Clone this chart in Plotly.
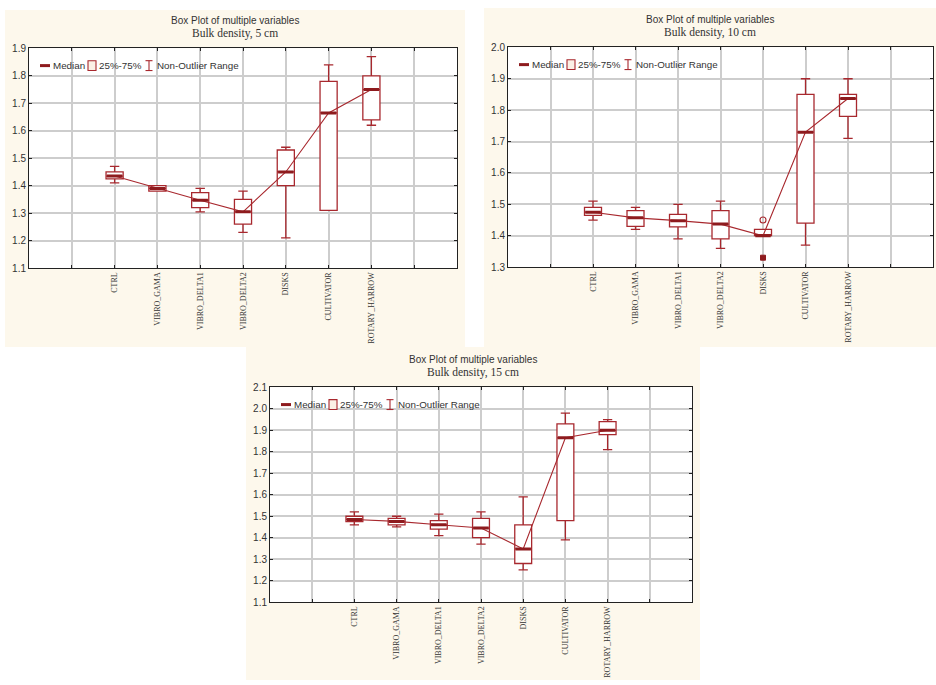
import plotly.graph_objects as go

W, H = 936, 685

categories = ["CTRL", "VIBRO_GAMA", "VIBRO_DELTA1", "VIBRO_DELTA2", "DISKS", "CULTIVATOR", "ROTARY_HARROW"]
positions = [2, 3, 4, 5, 6, 7, 8]
tick_positions = [1, 2, 3, 4, 5, 6, 7, 8, 9]
tick_labels = [""] + categories + [""]

# Bulk density, 5 cm
lower_5 = [1.41, 1.38, 1.305, 1.23, 1.21, 1.31, 1.62]
q1_5 = [1.425, 1.38, 1.32, 1.26, 1.40, 1.31, 1.64]
median_5 = [1.435, 1.39, 1.347, 1.305, 1.45, 1.665, 1.75]
q3_5 = [1.45, 1.40, 1.375, 1.35, 1.53, 1.78, 1.80]
upper_5 = [1.47, 1.40, 1.39, 1.38, 1.54, 1.84, 1.87]

# Bulk density, 10 cm
lower_10 = [1.45, 1.42, 1.39, 1.36, 1.40, 1.37, 1.71]
q1_10 = [1.465, 1.43, 1.428, 1.39, 1.40, 1.44, 1.78]
median_10 = [1.475, 1.457, 1.448, 1.437, 1.40, 1.73, 1.837]
q3_10 = [1.49, 1.48, 1.468, 1.48, 1.42, 1.85, 1.85]
upper_10 = [1.51, 1.49, 1.50, 1.51, 1.42, 1.90, 1.90]
outlier_x_10 = ["DISKS"]
outlier_y_10 = [1.45]
extreme_x_10 = ["DISKS"]
extreme_y_10 = [1.33]

# Bulk density, 15 cm
lower_15 = [1.46, 1.45, 1.41, 1.37, 1.25, 1.39, 1.81]
q1_15 = [1.475, 1.46, 1.44, 1.40, 1.28, 1.48, 1.88]
median_15 = [1.485, 1.476, 1.46, 1.445, 1.348, 1.865, 1.90]
q3_15 = [1.50, 1.49, 1.48, 1.49, 1.46, 1.93, 1.94]
upper_15 = [1.52, 1.50, 1.51, 1.52, 1.59, 1.98, 1.95]

RED = "#A8282E"
DARK_RED = "#8E1B1E"
CREAM = "#FDF8EC"
GRID = "#CDCDCD"
TXT = "#333333"
SANS = "Liberation Sans, Arial, sans-serif"
SERIF = "Liberation Serif, Times New Roman, serif"

pos_of = dict(zip(categories, positions))

panels = [
    dict(sfx="", title="Bulk density, 5 cm", plot=(29, 457, 44, 267), bg=(5, 465, 5, 347),
         yr=(1.1, 1.9), lo=lower_5, q1=q1_5, md=median_5, q3=q3_5, hi=upper_5, out=None, ext=None),
    dict(sfx="2", title="Bulk density, 10 cm", plot=(508, 933, 43, 266), bg=(484, 936, 3, 347),
         yr=(1.3, 2.0), lo=lower_10, q1=q1_10, md=median_10, q3=q3_10, hi=upper_10,
         out=(outlier_x_10, outlier_y_10), ext=(extreme_x_10, extreme_y_10)),
    dict(sfx="3", title="Bulk density, 15 cm", plot=(270, 692, 388, 606), bg=(246, 700, 347, 685),
         yr=(1.1, 2.1), lo=lower_15, q1=q1_15, md=median_15, q3=q3_15, hi=upper_15, out=None, ext=None),
]

def px(x):
    return x / W

def py(y):
    return 1 - y / H

fig = go.Figure()
shapes = []
annotations = []

# cream panel backgrounds
for p in panels:
    x0, x1, y0, y1 = p["bg"]
    shapes.append(dict(type="rect", xref="paper", yref="paper", x0=px(x0), x1=px(x1),
                       y0=py(y1), y1=py(y0), fillcolor=CREAM, line=dict(width=0), layer="below"))

for p in panels:
    s = p["sfx"]
    xa, ya = "x" + s, "y" + s
    l, r, t, b = p["plot"]

    # white plot area
    shapes.append(dict(type="rect", xref=xa + " domain", yref=ya + " domain", x0=0, x1=1, y0=0, y1=1,
                       fillcolor="white", line=dict(width=0), layer="below"))

    fig.add_trace(go.Box(
        x=positions, q1=p["q1"], median=p["md"], q3=p["q3"],
        lowerfence=p["lo"], upperfence=p["hi"],
        width=0.4, whiskerwidth=0.55, boxpoints=False,
        line=dict(color=RED, width=1.3), fillcolor="white",
        xaxis=xa, yaxis=ya, showlegend=False, hoverinfo="skip"))

    fig.add_trace(go.Scatter(
        x=positions, y=p["md"], mode="lines+markers",
        line=dict(color=RED, width=1.1),
        marker=dict(symbol="line-ew", size=11, line=dict(color=DARK_RED, width=3)),
        xaxis=xa, yaxis=ya, showlegend=False, hoverinfo="skip"))

    if p["out"]:
        fig.add_trace(go.Scatter(
            x=[pos_of[c] for c in p["out"][0]], y=p["out"][1], mode="markers",
            marker=dict(symbol="circle-open", size=6, color=RED, line=dict(width=1.1)),
            xaxis=xa, yaxis=ya, showlegend=False, hoverinfo="skip"))
    if p["ext"]:
        fig.add_trace(go.Scatter(
            x=[pos_of[c] for c in p["ext"][0]], y=p["ext"][1], mode="markers",
            marker=dict(symbol="square", size=5, color=DARK_RED, line=dict(width=1, color=DARK_RED)),
            xaxis=xa, yaxis=ya, showlegend=False, hoverinfo="skip"))

    axis_key = "xaxis" + s
    yaxis_key = "yaxis" + s
    fig.layout[axis_key] = dict(
        domain=[px(l), px(r)], anchor=ya, range=[0, 10],
        tickvals=tick_positions, ticktext=tick_labels, tickangle=-90,
        tickfont=dict(family=SERIF, size=8, color=TXT),
        showgrid=True, gridcolor=GRID, gridwidth=1.5,
        showline=True, linecolor="#222222", linewidth=1, mirror="ticks",
        ticks="inside", ticklen=3, tickcolor="#222222", zeroline=False, fixedrange=True)
    fig.layout[yaxis_key] = dict(
        domain=[py(b), py(t)], anchor=xa, range=list(p["yr"]), dtick=0.1, tick0=p["yr"][0],
        tickformat=".1f", tickfont=dict(family=SANS, size=10, color=TXT),
        showgrid=True, gridcolor=GRID, gridwidth=1.5,
        showline=True, linecolor="#222222", linewidth=1, mirror="ticks",
        ticks="inside", ticklen=3, tickcolor="#222222", zeroline=False, fixedrange=True)

    # titles
    bx0, bx1, by0, by1 = p["bg"]
    cx = (bx0 + bx1) / 2
    annotations.append(dict(x=px(cx), y=py(t - 28), xref="paper", yref="paper", text="Box Plot of multiple variables",
                            showarrow=False, xanchor="center", yanchor="middle",
                            font=dict(family=SANS, size=10, color=TXT)))
    annotations.append(dict(x=px(cx), y=py(t - 15), xref="paper", yref="paper", text=p["title"],
                            showarrow=False, xanchor="center", yanchor="middle",
                            font=dict(family=SERIF, size=11.5, color=TXT)))

    # legend
    ly = t + 17.5
    shapes.append(dict(type="line", xref="paper", yref="paper", x0=px(l + 11), x1=px(l + 21),
                       y0=py(ly), y1=py(ly), line=dict(color=DARK_RED, width=3)))
    shapes.append(dict(type="rect", xref="paper", yref="paper", x0=px(l + 59), x1=px(l + 67),
                       y0=py(ly + 5), y1=py(ly - 5), line=dict(color=RED, width=1.1), fillcolor="#FBF1E6"))
    shapes.append(dict(type="line", xref="paper", yref="paper", x0=px(l + 120), x1=px(l + 120),
                       y0=py(ly + 5), y1=py(ly - 5), line=dict(color=RED, width=1.1)))
    shapes.append(dict(type="line", xref="paper", yref="paper", x0=px(l + 116.5), x1=px(l + 123.5),
                       y0=py(ly + 5), y1=py(ly + 5), line=dict(color=RED, width=1.1)))
    shapes.append(dict(type="line", xref="paper", yref="paper", x0=px(l + 116.5), x1=px(l + 123.5),
                       y0=py(ly - 5), y1=py(ly - 5), line=dict(color=RED, width=1.1)))
    for tx, txt in [(l + 22, "Median"), (l + 68, "25%-75%"), (l + 126, "Non-Outlier Range")]:
        annotations.append(dict(x=px(tx), y=py(ly), xref="paper", yref="paper", text=txt,
                                showarrow=False, xanchor="left", yanchor="middle",
                                font=dict(family=SANS, size=9.8, color=TXT)))

fig.update_layout(
    width=W, height=H, margin=dict(l=0, r=0, t=0, b=0),
    paper_bgcolor="white", plot_bgcolor="rgba(0,0,0,0)",
    shapes=shapes, annotations=annotations, showlegend=False)

fig.write_html(
    "out.html",
    config={"responsive": False, "displayModeBar": False},
    post_script="document.body.style.margin='0';document.body.style.overflow='hidden';",
)
